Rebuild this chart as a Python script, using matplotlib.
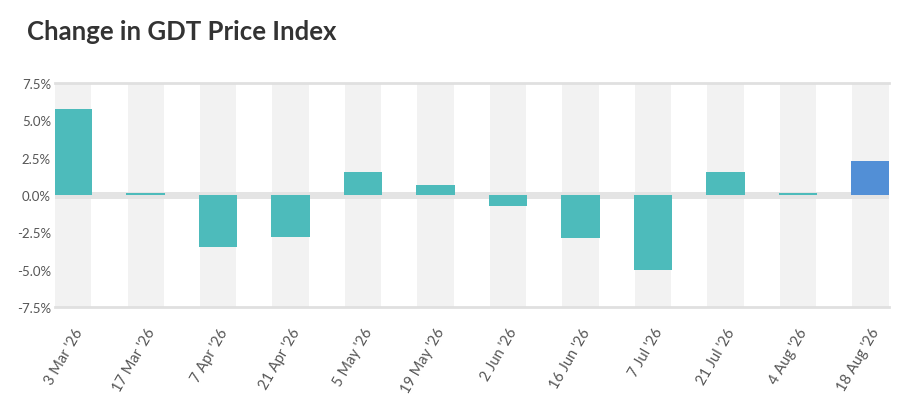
import numpy as np
import matplotlib.pyplot as plt

dates = ["3 Mar '26", "17 Mar '26", "7 Apr '26", "21 Apr '26", "5 May '26",
         "19 May '26", "2 Jun '26", "16 Jun '26", "7 Jul '26", "21 Jul '26",
         "4 Aug '26", "18 Aug '26"]
change = [5.75, 0.15, -3.5, -2.8, 1.55, 0.65, -0.7, -2.9, -5.0, 1.55, 0.15, 2.3]
yticks = [-7.5, -5.0, -2.5, 0.0, 2.5, 5.0, 7.5]

plt.rcParams['font.family'] = ['Lato', 'DejaVu Sans']

fig = plt.figure(figsize=(9.22, 4.06), dpi=100)
ax = fig.add_axes([0.0597, 0.241, 0.904, 0.552])

x = np.arange(len(dates))
bw = 0.5

# grey column bands behind each category
for xi in x:
    ax.axvspan(xi - bw / 2, xi + bw / 2, color='#f2f2f2', zorder=0, lw=0)

# zero band and top/bottom lines
ax.axhspan(-0.24, 0.24, color='#e4e4e4', zorder=1, lw=0)
ax.axhline(7.5, color='#e0e0e0', lw=2, zorder=1, clip_on=False)
ax.axhline(-7.5, color='#e0e0e0', lw=2, zorder=1, clip_on=False)

colors = ['#4dbbbb'] * (len(dates) - 1) + ['#528fd6']
ax.bar(x, change, width=bw + 0.03, color=colors, zorder=2, lw=0)

ax.set_xlim(-0.25, len(dates) - 0.75)
ax.set_ylim(-7.5, 7.5)
ax.set_yticks(yticks)
ax.set_yticklabels([f"{v:.1f}%" for v in yticks], color='#555555', fontsize=9.5)
ax.set_xticks(x)
ax.set_xticklabels(dates, rotation=60, ha='right', rotation_mode='anchor',
                   color='#555555', fontsize=10.5)
ax.tick_params(length=0, pad=3)
ax.tick_params(axis='x', pad=13)
for s in ax.spines.values():
    s.set_visible(False)

fig.text(0.029, 0.92, "Change in GDT Price Index", fontsize=18.5,
         fontweight='bold', color='#333333', va='center')

fig.savefig('out.png', dpi=100)
